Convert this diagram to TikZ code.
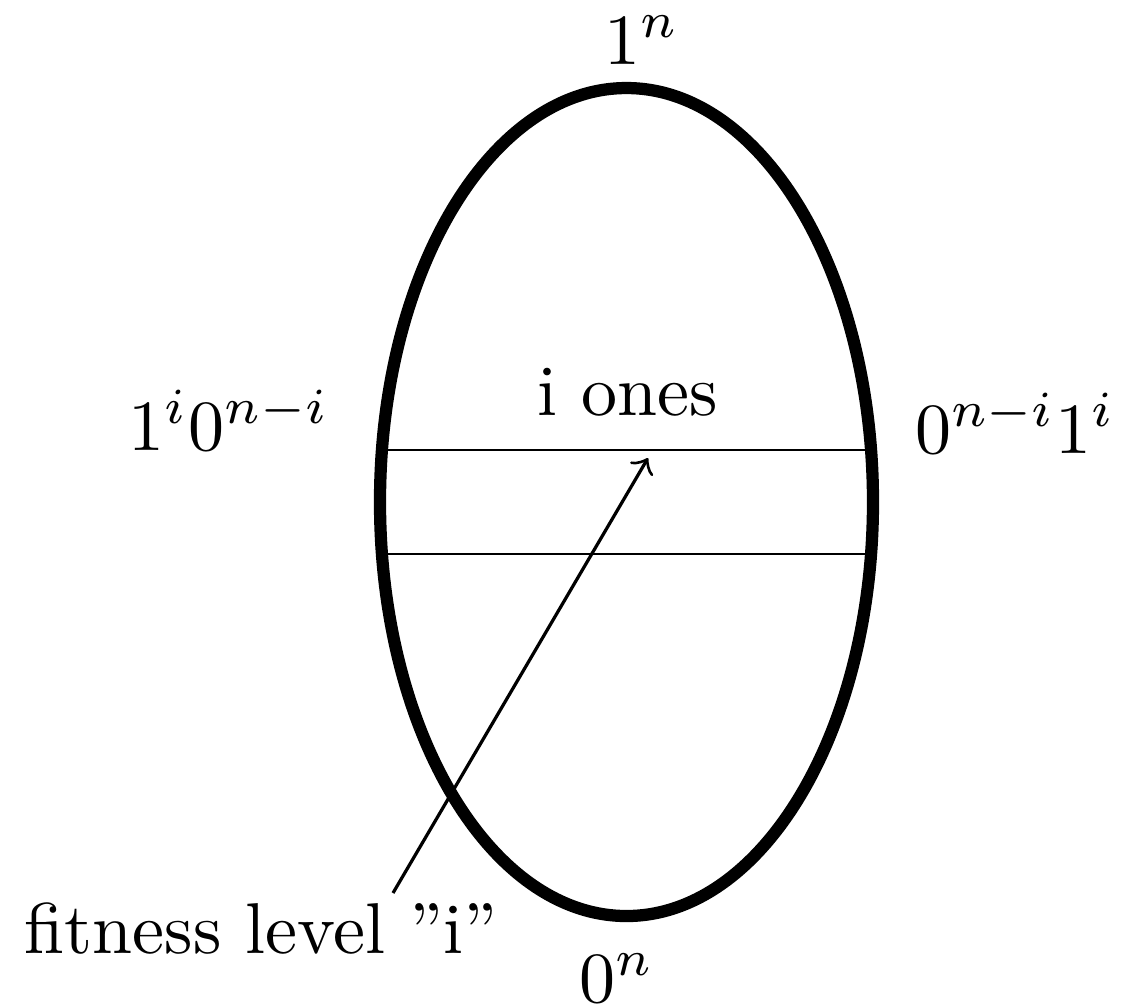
\documentclass[tikz,border=0pt]{standalone}
\begin{document}
\begin{tikzpicture}[x=0.13889pt,y=-0.13889pt,
  lbl/.style={inner sep=0pt,anchor=base},
  rim/.style={line width=1.7pt},
  band/.style={line width=0.4pt},
  pointer/.style={line width=0.45pt,->}]
\useasboundingbox (0,0) rectangle (1128,1007);
\draw[rim] (626.5,502) ellipse [x radius=246.5, y radius=414];
\coordinate (l1) at (384,450);
\coordinate (r1) at (867,450);
\coordinate (l2) at (384,554);
\coordinate (r2) at (867,554);
\draw[band] (l1) -- (r1);
\draw[band] (l2) -- (r2);
\node[lbl] (top) at (642,64) {$1^n$};
\node[lbl] (bot) at (617,1002) {$0^n$};
\node[lbl] (left) at (229,450) {$1^i0^{n-i}$};
\node[lbl] (right) at (1015.5,453) {$0^{n-i}1^i$};
\node[lbl] (ones) at (627.5,415) {i ones};
\node[lbl] (fit) at (261,953) {fitness level ''i''};
\coordinate (tail) at (393,893);
\coordinate (head) at (648,458);
\draw[pointer] (tail) -- (head);
\end{tikzpicture}
\end{document}
